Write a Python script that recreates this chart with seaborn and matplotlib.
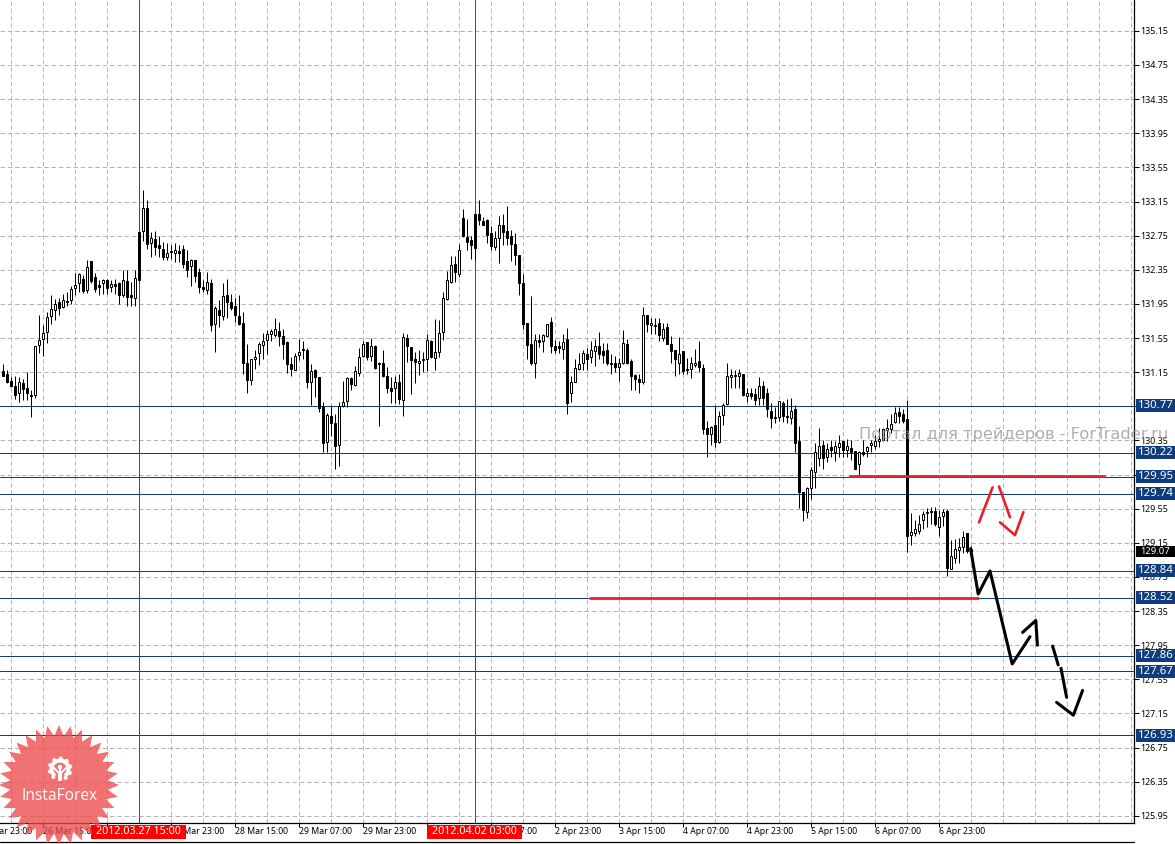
import numpy as np
import pandas as pd
import matplotlib
matplotlib.use("Agg")
import matplotlib.pyplot as plt
from matplotlib.patches import Polygon, Rectangle, Wedge, Circle
from matplotlib.lines import Line2D
from matplotlib.transforms import Affine2D
import seaborn as sns

opens = [131.16,131.13,131.05,130.99,130.90,131.02,130.97,130.88,130.88,131.47,
131.54,131.62,131.81,131.88,131.97,131.91,131.97,131.99,132.14,132.19,
132.24,132.11,132.45,132.27,132.17,132.19,132.23,132.15,132.18,132.19,
132.05,132.22,132.05,132.02,132.79,132.80,133.07,132.66,132.71,132.64,
132.59,132.50,132.56,132.55,132.57,132.59,132.45,132.39,132.47,132.32,
132.15,132.11,132.20,131.72,131.88,131.81,132.05,131.97,131.92,131.81,
131.73,131.26,131.06,131.30,131.38,131.47,131.53,131.60,131.58,131.63,
131.57,131.50,131.25,131.18,131.35,131.42,131.41,131.03,131.17,131.09,
130.74,130.33,130.64,130.55,130.30,130.75,130.81,131.08,131.00,131.14,
131.34,131.50,131.34,131.46,131.26,131.26,131.10,130.97,130.96,131.04,
130.82,131.55,131.45,131.31,131.26,131.29,131.31,131.52,131.32,131.39,
131.62,132.01,132.21,132.42,132.30,132.96,132.73,132.70,133.00,133.00,
132.92,132.93,132.78,132.62,132.72,132.88,132.81,132.74,132.65,132.52,
132.19,131.73,131.48,131.26,131.53,131.52,131.57,131.74,131.46,131.46,
131.42,131.54,130.90,131.04,131.19,131.26,131.36,131.33,131.40,131.46,
131.40,131.41,131.26,131.26,131.21,131.26,131.48,131.28,131.12,131.07,
131.04,131.82,131.70,131.69,131.73,131.55,131.68,131.48,131.41,131.26,
131.40,131.19,131.19,131.23,131.28,131.20,130.49,130.43,130.53,130.33,
130.65,130.78,131.09,131.10,131.10,131.13,130.87,130.91,130.89,130.85,
130.99,130.91,130.70,130.61,130.63,130.79,130.64,130.61,130.72,130.34,
129.75,129.51,129.79,129.98,130.14,130.30,130.15,130.27,130.22,130.27,
130.34,130.24,130.26,130.23,130.07,130.21,130.23,130.30,130.28,130.34,
130.36,130.47,130.48,130.57,130.68,130.66,130.60,129.24,129.26,129.29,
129.42,129.50,129.52,129.52,129.33,129.47,129.52,128.84,128.97,129.07,
129.10,129.26,129.08]

highs = [131.25,131.17,131.09,131.11,131.09,131.07,131.15,130.94,131.46,131.82,
131.70,131.86,132.06,132.01,132.02,132.07,132.09,132.16,132.31,132.31,
132.29,132.46,132.45,132.31,132.23,132.24,132.24,132.23,132.24,132.21,
132.35,132.35,132.21,132.35,132.79,133.29,133.17,132.79,132.80,132.74,
132.67,132.66,132.64,132.66,132.64,132.64,132.58,132.48,132.47,132.37,
132.23,132.32,132.24,131.93,131.99,132.20,132.24,132.07,132.02,132.06,
131.85,131.48,131.30,131.41,131.50,131.61,131.64,131.65,131.78,131.74,
131.66,131.52,131.33,131.37,131.54,131.52,131.43,131.24,131.19,131.09,
130.80,130.67,130.76,130.66,130.80,131.05,131.09,131.09,131.22,131.43,
131.52,131.50,131.55,131.47,131.27,131.41,131.21,131.09,131.11,131.13,
131.61,131.60,131.45,131.39,131.41,131.39,131.60,131.53,131.77,131.76,
132.09,132.34,132.51,132.51,132.65,133.06,132.95,132.74,133.00,133.17,
132.97,132.95,132.86,132.80,132.98,133.00,133.10,132.82,132.78,132.52,
132.30,131.73,132.04,131.60,131.60,131.60,131.72,131.80,131.53,131.52,
131.60,131.67,131.11,131.31,131.37,131.41,131.43,131.52,131.54,131.62,
131.49,131.49,131.36,131.34,131.32,131.64,131.54,131.30,131.13,131.13,
131.91,131.82,131.79,131.79,131.79,131.73,131.73,131.57,131.41,131.56,
131.40,131.32,131.33,131.42,131.52,131.24,130.58,130.52,130.76,130.70,
130.79,131.26,131.19,131.17,131.19,131.13,130.97,130.97,130.97,131.09,
131.05,130.97,130.79,130.74,130.81,130.81,130.83,130.85,130.76,130.52,
129.75,129.81,130.04,130.32,130.50,130.36,130.32,130.36,130.34,130.41,
130.34,130.37,130.36,130.23,130.23,130.35,130.29,130.36,130.41,130.50,
130.50,130.60,130.66,130.74,130.74,130.72,130.82,129.50,129.42,129.48,
129.52,129.56,129.57,129.57,129.54,129.55,129.55,129.18,129.19,129.21,
129.29,129.27,129.11]

lows = [131.10,131.02,130.98,130.84,130.80,130.82,130.82,130.62,130.85,131.38,
131.34,131.49,131.72,131.76,131.82,131.90,131.93,131.95,132.05,132.09,
132.08,132.08,132.19,132.09,132.05,132.07,132.07,132.09,132.07,131.95,
132.03,131.93,131.92,131.93,132.22,132.69,132.59,132.50,132.52,132.50,
132.47,132.47,132.48,132.44,132.44,132.37,132.27,132.16,132.21,132.08,
132.09,132.07,131.63,131.39,131.68,131.76,131.78,131.88,131.74,131.70,
131.13,130.90,131.00,131.19,131.23,131.31,131.36,131.51,131.56,131.46,
131.31,131.14,131.10,131.17,131.29,131.31,130.97,130.76,130.86,130.68,
130.22,130.22,130.40,130.02,130.05,130.74,130.74,130.94,130.99,131.11,
131.33,131.29,131.28,131.19,130.52,131.09,130.90,130.79,130.79,130.78,
130.64,131.27,130.89,131.02,131.12,131.15,131.16,131.32,131.17,131.33,
131.53,131.99,132.20,132.21,132.27,132.73,132.58,132.48,132.46,132.88,
132.88,132.66,132.58,132.58,132.43,132.64,132.64,132.45,132.41,132.05,
131.66,131.31,131.23,131.08,131.44,131.39,131.56,131.37,131.38,131.37,
131.31,130.66,130.80,131.03,131.17,131.17,131.17,131.26,131.22,131.31,
131.26,131.23,131.13,131.15,131.05,131.24,131.24,130.94,130.94,130.90,
131.01,131.62,131.60,131.60,131.52,131.52,131.48,131.26,131.11,131.13,
131.13,131.13,131.08,131.21,131.15,130.42,130.16,130.30,130.27,130.32,
130.53,130.77,130.97,130.97,130.97,130.87,130.80,130.83,130.77,130.77,
130.76,130.62,130.49,130.56,130.58,130.57,130.56,130.54,130.21,129.56,
129.40,129.44,129.66,129.79,130.05,130.01,130.10,130.15,130.11,130.15,
130.16,130.16,130.12,130.01,129.95,130.17,130.16,130.21,130.25,130.27,
130.34,130.34,130.44,130.55,130.55,130.56,129.04,129.12,129.23,129.25,
129.31,129.33,129.37,129.35,129.23,129.35,128.76,128.84,128.91,128.91,
129.03,129.03,129.03]

closes = [131.11,131.03,130.99,130.88,131.03,130.95,130.90,130.87,131.46,131.53,
131.61,131.80,131.89,131.95,131.90,131.99,131.98,132.13,132.17,132.30,
132.10,132.38,132.22,132.13,132.15,132.23,132.14,132.18,132.16,132.06,
132.23,132.03,132.03,132.25,132.23,133.07,132.65,132.72,132.62,132.60,
132.50,132.55,132.57,132.58,132.55,132.42,132.35,132.46,132.28,132.15,
132.12,132.21,131.70,131.90,131.82,132.04,131.97,131.90,131.82,131.72,
131.26,131.06,131.30,131.33,131.48,131.52,131.60,131.63,131.66,131.57,
131.48,131.24,131.19,131.34,131.39,131.41,131.03,131.16,131.09,130.73,
130.32,130.65,130.55,130.29,130.75,130.80,131.08,131.01,131.16,131.33,
131.48,131.33,131.46,131.20,131.24,131.10,130.96,130.93,131.04,130.84,
131.56,131.46,131.29,131.27,131.28,131.31,131.53,131.33,131.39,131.61,
132.02,132.23,132.41,132.32,132.58,132.74,132.68,132.64,132.60,132.93,
132.88,132.76,132.63,132.72,132.88,132.79,132.72,132.65,132.52,132.20,
131.72,131.47,131.26,131.53,131.50,131.58,131.72,131.46,131.41,131.43,
131.50,130.79,131.04,131.20,131.24,131.37,131.30,131.41,131.46,131.36,
131.35,131.26,131.25,131.21,131.26,131.49,131.26,131.11,131.07,131.03,
131.82,131.71,131.73,131.70,131.58,131.66,131.48,131.40,131.30,131.36,
131.16,131.18,131.26,131.26,131.21,130.48,130.43,130.51,130.33,130.64,
130.76,131.10,131.12,131.12,131.14,130.88,130.91,130.87,130.82,130.99,
130.85,130.72,130.61,130.63,130.81,130.64,130.62,130.70,130.32,129.75,
129.54,129.79,130.00,130.21,130.28,130.14,130.25,130.24,130.29,130.32,
130.24,130.28,130.22,130.02,130.21,130.19,130.27,130.32,130.34,130.37,
130.48,130.50,130.54,130.67,130.64,130.58,129.23,129.28,129.31,129.37,
129.49,129.51,129.51,129.37,129.45,129.51,128.85,128.99,129.08,129.10,
129.22,129.05,129.05]

price_ticks = [135.15,134.75,134.35,133.95,133.55,133.15,132.75,132.35,131.95,131.55,131.15,
               130.75,130.35,129.95,129.55,129.15,128.75,128.35,127.95,127.55,127.15,126.75,126.35,125.95]
level_labels = ["130.77","130.22","129.95","129.74","128.84","128.52","127.86","127.67","126.93"]
level_prices = [130.755,130.205,129.925,129.725,128.825,128.505,127.825,127.645,126.895]
bid_label = "129.07"
bid_price = 129.05
time_positions = [-6,10,26,42,58,74,90,106,122,138,154,170,186,202,218,234]
time_labels = ["25 Mar 23:00","26 Mar 15:00","27 Mar 07:00","27 Mar 23:00","28 Mar 15:00","29 Mar 07:00",
               "29 Mar 23:00","30 Mar 15:00","2 Apr 07:00","2 Apr 23:00","3 Apr 15:00","4 Apr 07:00",
               "4 Apr 23:00","5 Apr 15:00","6 Apr 07:00","6 Apr 23:00"]
separator_bars = [34,118]
separator_labels = ["2012.03.27 15:00","2012.04.02 03:00"]
red_levels = [(211.75,275.25,129.93),(146.75,243.75,128.50)]
black_paths = [([241.9,243.8,246.75,252.3,256.75],[129.08,128.55,128.82,127.73,128.05]),
               ([254.9,258.2,258.6],[128.10,128.24,127.95]),
               ([262.4,263.8],[127.94,127.72]),
               ([264.5,265.9],[127.68,127.34]),
               ([263.4,267.6,269.9],[127.28,127.13,127.42])]
red_paths = [([244.0,247.4],[129.39,129.80]),
             ([249.0,251.75],[129.81,129.45]),
             ([249.25,253.0,255.1],[129.39,129.24,129.51])]

W, H = 1175, 844
sns.set_theme(style="white", rc={"axes.edgecolor":"black"})
plt.rcParams["font.family"] = ["Noto Sans", "DejaVu Sans"]

fig = plt.figure(figsize=(W/100, H/100), dpi=100, facecolor="white")
ax = fig.add_axes([0, 21/H, 1134/W, 823/H])
PX = 85.33
top = 133.15 + 201.5/PX
ax.set_ylim(top - 823/PX, top)
ax.set_xlim(-0.75, 282.75)
ax.set_facecolor("white")

df = pd.DataFrame({"o":opens,"h":highs,"l":lows,"c":closes})
df["i"] = np.arange(len(df))
dash = (0,(4.5,2.8))
THIN = 0.72

# grid
for xg in np.arange(2, 284, 8):
    ax.axvline(xg, color="#b8b8b8", lw=THIN, ls=dash, zorder=1, snap=True)
for p in price_ticks:
    ax.axhline(p, color="#b8b0b8", lw=THIN, ls=dash, zorder=1, snap=True)

# level lines
for p in level_prices:
    ax.axhline(p, color="#0f3c7d", lw=THIN, zorder=2, snap=True)
ax.axhline(bid_price, color="#c8c0c8", lw=THIN, ls=(0,(2,2)), zorder=2, snap=True)
for b in separator_bars:
    ax.axvline(b, color="#ff0000", lw=THIN, zorder=2, snap=True)

# candles
ax.vlines(df["i"], df["l"], df["h"], color="black", lw=THIN, zorder=3, snap=True)
up = df[df["c"] >= df["o"]]
dn = df[df["c"] < df["o"]]
ax.bar(up["i"], (up["c"]-up["o"]).clip(lower=0.01), bottom=up["o"], width=0.5, color="white",
       edgecolor="black", linewidth=THIN, zorder=4, snap=True)
ax.bar(dn["i"], (dn["o"]-dn["c"]), bottom=dn["c"], width=0.5, color="black",
       edgecolor="black", linewidth=THIN, zorder=4, snap=True)

# drawn annotations
for x0, x1, y in red_levels:
    sns.lineplot(x=[x0,x1], y=[y,y], color="#e8202c", lw=2.0, ax=ax, zorder=5, estimator=None, sort=False)
for xs, ys in red_paths:
    sns.lineplot(x=xs, y=ys, color="#e8202c", lw=1.9, ax=ax, zorder=6, estimator=None, sort=False)
for xs, ys in black_paths:
    sns.lineplot(x=xs, y=ys, color="black", lw=2.2, ax=ax, zorder=6, estimator=None, sort=False)

ax.set_xlabel(""); ax.set_ylabel("")
for s in ["top","left"]:
    ax.spines[s].set_visible(False)
for s in ["right","bottom"]:
    ax.spines[s].set_visible(True)
    ax.spines[s].set_linewidth(0.9)
    ax.spines[s].set_color("black")
ax.yaxis.tick_right()
ax.set_yticks(price_ticks)
ax.set_yticklabels([f"{p:.2f}" for p in price_ticks], fontsize=6.4, color="black")
ax.tick_params(axis="y", right=True, left=False, length=3.6, width=0.72, pad=0.6, color="black")
ax.set_xticks(time_positions[1:])
ax.set_xticklabels([])
ax.tick_params(axis="x", bottom=True, length=3.0, width=0.72, direction="out", color="black")

# pixel transform (y measured from the top of the image)
px = Affine2D().scale(1, -1).translate(0, H)

# bottom frame
fig.add_artist(Line2D([0,1134],[842,842], transform=px, color="black", lw=0.9))

for pos, lab in zip(time_positions, time_labels):
    fig.text(3+4*pos, 831, lab, transform=px, fontsize=6.25, color="black", ha="left", va="center")

# separator date boxes
for b, lab in zip(separator_bars, separator_labels):
    xl = 3+4*b-48
    fig.add_artist(Rectangle((xl,825), 94.5, 14, transform=px, facecolor="#ff0000", edgecolor="none", zorder=8))
    fig.text(xl+47, 832, lab, transform=px, fontsize=7.7, color="white", ha="center", va="center", zorder=9)

# level label boxes
for p, lab in zip(level_prices, level_labels):
    ypx = (top-p)*PX
    fig.add_artist(Rectangle((1136,ypx-6.5), 39, 13, transform=px, facecolor="#0f3c7d", edgecolor="none", zorder=8))
    fig.text(1155.5, ypx, lab, transform=px, fontsize=8.2, color="white", ha="center", va="center", zorder=9)
ypx = (top-bid_price)*PX
fig.add_artist(Rectangle((1136,ypx-5.5), 39, 11, transform=px, facecolor="black", edgecolor="none", zorder=8))
fig.text(1155.5, ypx, bid_label, transform=px, fontsize=6.8, color="white", ha="center", va="center", zorder=9)

# watermark
fig.text(859, 434, "Портал для трейдеров - ForTrader.ru", transform=px, fontsize=11.7,
         family="DejaVu Sans", color="#9c9090", alpha=0.75, ha="left", va="center", zorder=7)

# InstaForex badge
cx, cy = 59, 785
n = 32
ang = np.linspace(0, 2*np.pi, 2*n, endpoint=False)
rad = np.where(np.arange(2*n) % 2 == 0, 60, 49)
star = np.column_stack([cx+rad*np.cos(ang), cy+rad*np.sin(ang)])
fig.add_artist(Polygon(star, closed=True, transform=px, facecolor="#ee4a4a", alpha=0.78, edgecolor="none", zorder=10))
gx, gy = 60, 769
fig.add_artist(Wedge((gx,gy), 10.5, 125, 415, width=4, transform=px, facecolor="white", edgecolor="none", zorder=11))
for t in np.arange(130, 420, 36):
    a = np.deg2rad(t)
    fig.add_artist(Circle((gx+10.5*np.cos(a), gy+10.5*np.sin(a)), 2.0, transform=px, facecolor="white", edgecolor="none", zorder=11))
fig.add_artist(Rectangle((gx-1.2,gy), 2.4, 12, transform=px, facecolor="white", edgecolor="none", zorder=11))
fig.add_artist(Circle((gx,gy-2), 2.2, transform=px, facecolor="white", edgecolor="none", zorder=11))
fig.add_artist(Line2D([gx-6,gx-1,gx-1],[gy-1,gy+4,gy+11], transform=px, color="white", lw=1.4, zorder=11))
fig.add_artist(Line2D([gx+6,gx+1,gx+1],[gy-1,gy+4,gy+11], transform=px, color="white", lw=1.4, zorder=11))
fig.text(59.5, 796, "InstaForex", transform=px, fontsize=11.2, color="white", ha="center", va="center", zorder=12, family="Open Sans")

fig.savefig("out.png", dpi=100, facecolor="white")
